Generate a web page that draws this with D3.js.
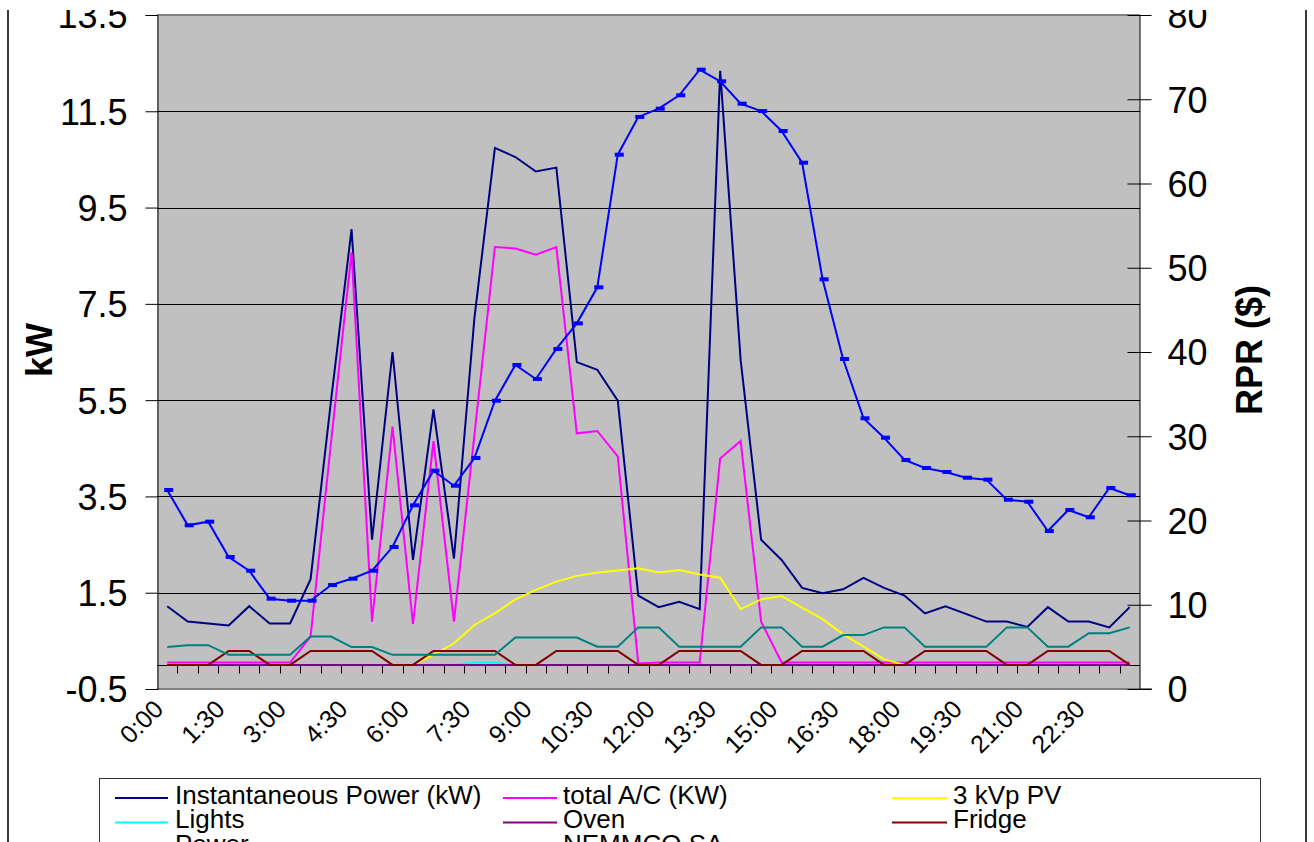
<!DOCTYPE html>
<html>
<head>
<meta charset="utf-8">
<script src="https://cdn.jsdelivr.net/npm/d3@7"></script>
<style>
  html, body { margin: 0; padding: 0; background: #fff; }
  svg { display: block; font-family: "Liberation Sans", Arial, sans-serif; }
</style>
</head>
<body>
<svg id="chart" width="1314" height="842"></svg>
<script>
// Half-hourly categories
const times = ["0:00","0:30","1:00","1:30","2:00","2:30","3:00","3:30","4:00","4:30","5:00","5:30",
  "6:00","6:30","7:00","7:30","8:00","8:30","9:00","9:30","10:00","10:30","11:00","11:30",
  "12:00","12:30","13:00","13:30","14:00","14:30","15:00","15:30","16:00","16:30","17:00","17:30",
  "18:00","18:30","19:00","19:30","20:00","20:30","21:00","21:30","22:00","22:30","23:00","23:30"];
const timeLabels = ["0:00","1:30","3:00","4:30","6:00","7:30","9:00","10:30","12:00","13:30",
  "15:00","16:30","18:00","19:30","21:00","22:30"];
const kwTicks = [-0.5, 1.5, 3.5, 5.5, 7.5, 9.5, 11.5, 13.5];
const rprTicks = [0, 10, 20, 30, 40, 50, 60, 70, 80];

// Household loads (kW)
const instPower = [1.22,0.90,0.86,0.82,1.22,0.86,0.86,1.78,5.5,9.05,2.6,6.5,2.18,5.31,2.21,7.21,
  10.74,10.55,10.25,10.33,6.29,6.13,5.49,1.44,1.2,1.31,1.16,12.34,6.33,2.6,2.18,1.6,
  1.49,1.57,1.81,1.6,1.44,1.07,1.22,1.06,0.9,0.9,0.79,1.2,0.9,0.9,0.78,1.2];
const totalAC = [0.05,0.05,0.05,0.05,0.05,0.05,0.05,0.59,4.63,8.57,0.9,4.95,0.85,4.65,0.9,4.78,
  8.68,8.65,8.52,8.68,4.81,4.86,4.33,0.03,0.05,0.05,0.05,4.29,4.65,0.9,0.05,0.05,
  0.05,0.05,0.05,0.05,0.05,0.05,0.05,0.05,0.05,0.05,0.05,0.05,0.05,0.05,0.05,0.05];
const pv = [0,0,0,0,0,0,0,0,0,0,0,0,0,0.21,0.45,0.83,
  1.07,1.36,1.56,1.73,1.85,1.92,1.96,2.01,1.92,1.97,1.88,1.81,1.16,1.36,1.43,1.19,
  0.95,0.64,0.38,0.12,0,0,0,0,0,0,0,0,0,0,0,0];
const lights = [0,0,0,0,0,0,0,0,0,0,0,0,0,0,0,0.05,
  0.05,0,0,0,0,0,0,0,0,0,0,0,0,0,0,0,
  0,0,0,0,0,0,0,0,0,0,0,0,0,0,0,0];
const oven = [0,0,0,0,0,0,0,0,0,0,0,0,0,0,0,0,
  0,0,0,0,0,0,0,0,0,0,0,0,0,0,0,0,
  0,0,0,0,0,0,0,0,0,0,0,0,0,0,0,0];
const fridge = [0,0,0,0.29,0.29,0,0,0.29,0.29,0.29,0.29,0,0,0.29,0.29,0.29,
  0.29,0,0,0.29,0.29,0.29,0.29,0,0,0.29,0.29,0.29,0.29,0,0,0.29,
  0.29,0.29,0.29,0,0,0.29,0.29,0.29,0.29,0,0,0.29,0.29,0.29,0.29,0];
const power = [0.37,0.41,0.41,0.21,0.21,0.21,0.21,0.59,0.59,0.37,0.37,0.21,0.21,0.21,0.21,0.21,
  0.21,0.57,0.57,0.57,0.57,0.38,0.38,0.78,0.78,0.38,0.38,0.38,0.38,0.78,0.78,0.38,
  0.38,0.62,0.62,0.78,0.78,0.38,0.38,0.38,0.38,0.78,0.78,0.38,0.38,0.66,0.66,0.78];
// Regional reference price ($)
const nemmco = [23.62,19.43,19.86,15.67,14.04,10.72,10.48,10.48,12.34,13.09,14.04,16.85,21.8,25.91,24.13,27.42,
  34.22,38.46,36.8,40.36,43.4,47.68,63.42,67.9,68.88,70.47,73.51,72.13,69.47,68.6,66.23,62.47,
  48.63,39.17,32.13,29.83,27.18,26.23,25.76,25.08,24.85,22.47,22.23,18.75,21.25,20.38,23.86,22.99];

const seriesNames = ["Instantaneous Power (kW)","total A/C (KW)","3 kVp PV","Lights","Oven","Fridge","Power","NEMMCO SA"];
const seriesColors = ["#000080","#FF00FF","#FFFF00","#00FFFF","#800080","#800000","#008080","#0000FF"];

const svg = d3.select("#chart");
const L = 157, R = 1140, T = 15, B = 689;

const x = d3.scaleBand().domain(times).range([L, R]).padding(0);
const cx = t => x(t) + x.bandwidth() / 2;
const yL = d3.scaleLinear().domain([-0.5, 13.5]).range([B, T]);
const yR = d3.scaleLinear().domain([0, 80]).range([B, T]);

// Outer frame sides
svg.append("line").attr("x1", 8).attr("x2", 8).attr("y1", 10).attr("y2", 842)
  .attr("stroke", "#3a3a3a").attr("stroke-width", 2);
svg.append("line").attr("x1", 1306).attr("x2", 1306).attr("y1", 10).attr("y2", 842)
  .attr("stroke", "#3a3a3a").attr("stroke-width", 2);

// Plot area
svg.append("rect").attr("x", L).attr("y", T).attr("width", R - L).attr("height", B - T)
  .attr("fill", "#C0C0C0");

// Gridlines
svg.append("g").selectAll("line").data(kwTicks.filter(v => v > -0.5 && v < 13.5)).join("line")
  .attr("x1", L).attr("x2", R)
  .attr("y1", d => Math.round(yL(d)) + 0.5).attr("y2", d => Math.round(yL(d)) + 0.5)
  .attr("stroke", "#000").attr("stroke-width", 1);

// Plot border top/bottom
svg.append("line").attr("x1", L).attr("x2", R).attr("y1", T).attr("y2", T)
  .attr("stroke", "#808080").attr("stroke-width", 2);
svg.append("line").attr("x1", L).attr("x2", R + 12).attr("y1", B).attr("y2", B)
  .attr("stroke", "#808080").attr("stroke-width", 2);

// Left axis
const leftAxis = d3.axisLeft(yL).tickValues(kwTicks).tickSize(12).tickPadding(18)
  .tickFormat(d => d.toFixed(1));
const gL = svg.append("g").attr("transform", `translate(${L + 0.5},0)`).call(leftAxis);
gL.select(".domain").attr("stroke", "#000");
gL.selectAll(".tick line").attr("stroke", "#000");
gL.selectAll(".tick text").attr("font-size", 36).attr("fill", "#000")
  .attr("font-family", "Liberation Sans, Arial, sans-serif").attr("dy", "0.36em");

// Right axis
const rightAxis = d3.axisRight(yR).tickValues(rprTicks).tickSizeInner(12).tickSizeOuter(0).tickPadding(16);
const gR = svg.append("g").attr("transform", `translate(${R - 0.5},0)`).call(rightAxis);
gR.select(".domain").attr("stroke", "#000");
gR.selectAll(".tick line").attr("stroke", "#000").attr("x1", -12);
gR.selectAll(".tick text").attr("font-size", 36).attr("fill", "#000")
  .attr("font-family", "Liberation Sans, Arial, sans-serif").attr("dy", "0.36em");

// Category axis crossing at 0 kW, ticks between categories
const y0 = Math.round(yL(0)) + 0.5;
svg.append("line").attr("x1", L).attr("x2", R).attr("y1", y0).attr("y2", y0)
  .attr("stroke", "#000").attr("stroke-width", 1);
svg.append("g").selectAll("line").data(times.slice(1)).join("line")
  .attr("x1", d => Math.round(x(d)) + 0.5).attr("x2", d => Math.round(x(d)) + 0.5)
  .attr("y1", y0).attr("y2", y0 + 8)
  .attr("stroke", "#000").attr("stroke-width", 1);

// Category labels (low position)
svg.append("g").selectAll("text").data(timeLabels).join("text")
  .attr("transform", d => `translate(${cx(d) - 15},698) rotate(-45)`)
  .attr("text-anchor", "end").attr("dy", "0.71em")
  .attr("font-size", 25).attr("fill", "#000")
  .text(d => d);

// Series
const kwSeries = [instPower, totalAC, pv, lights, oven, fridge, power];
const drawOrder = [0, 1, 2, 3, 4, 5, 6];
const lineL = d3.line().x((d, i) => cx(times[i])).y(d => yL(d));
drawOrder.forEach(k => {
  svg.append("path").datum(kwSeries[k])
    .attr("d", lineL).attr("fill", "none")
    .attr("stroke", seriesColors[k]).attr("stroke-width", 2)
    .attr("stroke-linejoin", "miter");
});

// Price series on the secondary axis with dash markers
const lineR = d3.line().x((d, i) => cx(times[i])).y(d => yR(d));
svg.append("path").datum(nemmco).attr("d", lineR).attr("fill", "none")
  .attr("stroke", seriesColors[7]).attr("stroke-width", 2);
svg.append("g").selectAll("rect").data(nemmco).join("rect")
  .attr("x", (d, i) => cx(times[i]) - 3).attr("y", d => yR(d) - 2)
  .attr("width", 9).attr("height", 4).attr("fill", seriesColors[7]);

// Axis titles
svg.append("text").attr("transform", "translate(52,350) rotate(-90)")
  .attr("text-anchor", "middle").attr("font-size", 36).attr("font-weight", "bold")
  .text("kW");
svg.append("text").attr("transform", "translate(1262,350) rotate(-90)")
  .attr("text-anchor", "middle").attr("font-size", 36).attr("font-weight", "bold")
  .text("RPR ($)");

// Legend
const lg = svg.append("g");
lg.append("rect").attr("x", 99.5).attr("y", 778.5).attr("width", 1161).attr("height", 120)
  .attr("fill", "#fff").attr("stroke", "#333").attr("stroke-width", 1);
const colX = [[115, 168, 175], [503, 557, 563], [892, 947, 953]];
const rowY = [798, 822.5, 847];
seriesNames.forEach((name, i) => {
  const c = colX[i % 3], ry = rowY[Math.floor(i / 3)];
  lg.append("line").attr("x1", c[0]).attr("x2", c[1]).attr("y1", ry).attr("y2", ry)
    .attr("stroke", seriesColors[i]).attr("stroke-width", 2);
  lg.append("text").attr("x", c[2]).attr("y", ry + 5.5).attr("font-size", 26)
    .attr("fill", "#000").text(name);
});

// Top edge of the frame crops everything above it
svg.append("rect").attr("x", 0).attr("y", 0).attr("width", 1314).attr("height", 10).attr("fill", "#fff");
</script>
</body>
</html>
